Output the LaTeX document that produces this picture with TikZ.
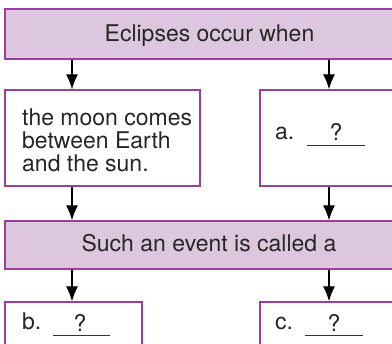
\documentclass[tikz,border=0pt]{standalone}
\usepackage{fontspec}
\setmainfont{TeX Gyre Heros}
\usetikzlibrary{arrows.meta, positioning}

\definecolor{boxline}{HTML}{9B3F9D}
\definecolor{boxfill}{HTML}{DCC7DF}

\tikzset{
    headbox/.style={draw=boxline, fill=boxfill, line width=1.4pt, inner sep=0pt},
    plainbox/.style={draw=boxline, fill=white, line width=1.4pt, inner sep=0pt},
    flow/.style={line width=1.2pt, -{Latex[length=15pt,width=12pt]}},
    words/.style={font=\fontsize{23}{23}\selectfont, inner sep=0pt, text=black!85},
    blankline/.style={line width=1pt, black!80}
}

\begin{document}
\begin{tikzpicture}[x=1pt, y=-1pt]
    \clip (0,0) rectangle (392,344);
    \fill[white] (0,0) rectangle (392,344);
    %%% Boxes
    \node[headbox, minimum width=408pt, minimum height=50pt] (eclipse) at (209,34) {};
    \node[plainbox, minimum width=195pt, minimum height=96pt] (moon) at (102.5,138) {};
    \node[plainbox, minimum width=153pt, minimum height=96pt] (parta) at (336.5,138) {};
    %
    \node[headbox, minimum width=408pt, minimum height=48pt] (event) at (209,245) {};
    \node[plainbox, minimum width=137pt, minimum height=68pt] (partb) at (73.5,336) {};
    \node[plainbox, minimum width=153pt, minimum height=68pt] (partc) at (336.5,336) {};
    %
    %%% Arrows
    \coordinate (lcol) at (72,0);
    \coordinate (rcol) at (329,0);
    \draw[flow] (eclipse.south -| lcol) -- (moon.north -| lcol);
    \draw[flow] (eclipse.south -| rcol) -- (parta.north -| rcol);
    \draw[flow] (moon.south -| lcol) -- (event.north -| lcol);
    \draw[flow] (parta.south -| rcol) -- (event.north -| rcol);
    \draw[flow] (event.south -| lcol) -- (partb.north -| lcol);
    \draw[flow] (event.south -| rcol) -- (partc.north -| rcol);
    %
    %%% Texts
    \node[words, anchor=base] (eclipsetext) at (209.5,42) {Eclipses occur when};
    \node[words, anchor=base] (eventtext) at (209,252) {Such an event is called a};
    \node[words, anchor=base west, align=left] (moontext) at (22,172) {the moon comes\\between Earth\\and the sun.};
    %
    \node[words, anchor=base west] (alabel) at (275,140) {a.};
    \node[words, anchor=base] (aquery) at (336,141) {?};
    \draw[blankline] (307,145.5) -- (365,145.5);
    %
    \node[words, anchor=base west] (blabel) at (22,330) {b.};
    \node[words, anchor=base] (bquery) at (80,332) {?};
    \draw[blankline] (53,336) -- (110,336);
    %
    \node[words, anchor=base west] (clabel) at (275,330) {c.};
    \node[words, anchor=base] (cquery) at (334,332) {?};
    \draw[blankline] (305,336) -- (363,336);
\end{tikzpicture}
\end{document}
